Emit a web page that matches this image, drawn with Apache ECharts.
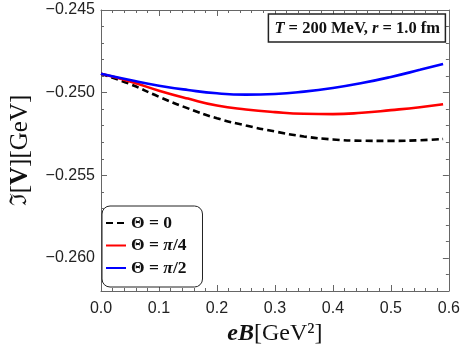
<!DOCTYPE html>
<html>
<head>
<meta charset="utf-8">
<script src="https://cdn.jsdelivr.net/npm/echarts@6/dist/echarts.min.js"></script>
<style>html,body{margin:0;padding:0;background:#fff}#c{width:463px;height:355px}</style>
</head>
<body>
<div id="c"></div>
<script>
const xValues = [0, 0.05, 0.10, 0.15, 0.20, 0.25, 0.30, 0.35, 0.40, 0.45, 0.50, 0.55, 0.59];
const theta0 = [-0.24886, -0.24948, -0.25025, -0.25095, -0.25155, -0.25199, -0.25235, -0.25265, -0.25283, -0.25291, -0.25292, -0.25288, -0.25280];
const thetaPi4 = [-0.24886, -0.24932, -0.24988, -0.25036, -0.25078, -0.25102, -0.25118, -0.25128, -0.25130, -0.25122, -0.25106, -0.25088, -0.25070];
const thetaPi2 = [-0.24886, -0.24924, -0.24958, -0.24984, -0.25004, -0.25012, -0.25008, -0.24994, -0.24972, -0.24942, -0.24905, -0.24862, -0.24826];
const seriesNames = ['Θ = 0', 'Θ = π/4', 'Θ = π/2'];
const yMajorTicks = [-0.260, -0.255, -0.250, -0.245];
const yMinorTicks = [-0.262, -0.261, -0.259, -0.258, -0.257, -0.256, -0.254, -0.253, -0.252, -0.251, -0.249, -0.248, -0.247, -0.246];

const pairs = ys => xValues.map((x, i) => [x, ys[i]]);
const axisColor = '#666';
const labelFont = {fontFamily: 'Liberation Sans', fontSize: 16, color: '#222'};

function xAx(pos, withLabels) {
  return {
    type: 'value', position: pos, min: 0, max: 0.6, interval: 0.1,
    axisLine: {show: true, onZero: false, lineStyle: {color: axisColor, width: 1}},
    axisTick: {show: true, inside: true, length: 6, lineStyle: {color: axisColor}},
    minorTick: {show: true, splitNumber: 5, length: 3, lineStyle: {color: axisColor}},
    axisLabel: Object.assign({show: withLabels, margin: 10, formatter: v => v.toFixed(1)}, labelFont),
    splitLine: {show: false}, minorSplitLine: {show: false},
    name: withLabels ? '{i|eB}[GeV²]' : '',
    nameLocation: 'middle', nameGap: 26,
    nameTextStyle: {fontFamily: 'Liberation Serif', fontSize: 24, color: '#111',
      rich: {i: {fontFamily: 'Liberation Serif', fontStyle: 'italic', fontWeight: 'bold', fontSize: 24, color: '#111'}}}
  };
}
function yAx(pos, ticks, len, withLabels, withLine) {
  return {
    type: 'value', position: pos, min: -0.262, max: -0.245,
    axisLine: {show: withLine, onZero: false, lineStyle: {color: axisColor, width: 1}},
    axisTick: {show: true, inside: true, length: len, customValues: ticks, lineStyle: {color: axisColor}},
    axisLabel: Object.assign({show: withLabels, margin: 6, customValues: ticks,
      formatter: v => v.toFixed(3).replace('-', '−')}, labelFont),
    splitLine: {show: false},
    name: withLabels ? '{f|ℑ}[{b|V}][GeV]' : '',
    nameLocation: 'middle', nameGap: 68,
    nameTextStyle: {fontFamily: 'Liberation Serif', fontSize: 25, color: '#111',
      rich: {f: {fontFamily: 'DejaVu Serif', fontSize: 23, color: '#111'},
             b: {fontFamily: 'Liberation Serif', fontWeight: 'bold', fontSize: 25, color: '#111'}}}
  };
}

const chart = echarts.init(document.getElementById('c'), null, {renderer: 'canvas'});
chart.setOption({
  animation: false,
  backgroundColor: '#fff',
  grid: {left: 98, right: 13, top: 10, bottom: 64, containLabel: false},
  title: {
    text: '{i|T} = 200 MeV, {i|r} = 1.0 fm',
    right: 17, top: 14, padding: [5, 6, 4, 6],
    borderColor: '#222', borderWidth: 1.5, backgroundColor: '#fff',
    textStyle: {fontFamily: 'Liberation Serif', fontWeight: 'bold', fontSize: 16.5, lineHeight: 19, color: '#111',
      rich: {i: {fontFamily: 'Liberation Serif', fontStyle: 'italic', fontWeight: 'bold', fontSize: 16.5, lineHeight: 19, color: '#111'}}}
  },
  legend: {
    orient: 'vertical', left: 102, top: 206,
    padding: [8, 16, 10, 3], itemGap: 4.5, itemWidth: 20, itemHeight: 14,
    borderColor: '#222', borderWidth: 1, borderRadius: 8, backgroundColor: '#fff',
    itemStyle: {opacity: 0, borderWidth: 0},
    data: seriesNames,
    formatter: n => n.replace('π', '{i|π}'),
    textStyle: {fontFamily: 'Liberation Serif', fontWeight: 'bold', fontSize: 17.5, lineHeight: 18, color: '#111',
      rich: {i: {fontFamily: 'Liberation Serif', fontStyle: 'italic', fontWeight: 'bold', fontSize: 17.5, lineHeight: 18, color: '#111'}}}
  },
  xAxis: [xAx('bottom', true), xAx('top', false)],
  yAxis: [
    yAx('left', yMajorTicks, 6, true, true),
    yAx('left', yMinorTicks, 3, false, false),
    yAx('right', yMajorTicks, 6, false, true),
    yAx('right', yMinorTicks, 3, false, false)
  ],
  series: [
    {name: seriesNames[0], type: 'line', smooth: true, showSymbol: false, symbol: 'none',
     data: pairs(theta0), lineStyle: {color: '#000', width: 2.6, type: [7, 4]}, itemStyle: {color: '#000'}},
    {name: seriesNames[1], type: 'line', smooth: true, showSymbol: false, symbol: 'none',
     data: pairs(thetaPi4), lineStyle: {color: '#ff0000', width: 2.6}, itemStyle: {color: '#ff0000'}},
    {name: seriesNames[2], type: 'line', smooth: true, showSymbol: false, symbol: 'none',
     data: pairs(thetaPi2), lineStyle: {color: '#0000ff', width: 2.6}, itemStyle: {color: '#0000ff'}}
  ]
});
</script>
</body>
</html>
